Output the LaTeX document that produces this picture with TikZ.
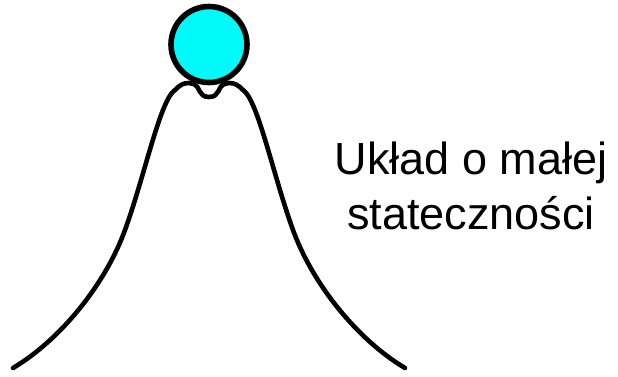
\documentclass[tikz,border=0pt]{standalone}
\usepackage{fontspec}
\setmainfont{Liberation Sans}
\definecolor{ballcyan}{RGB}{0,250,250}
\begin{document}
\begin{tikzpicture}[x=1pt,y=-1pt,
  hill/.style={line width=4.6pt,line cap=round,line join=round},
  ballstyle/.style={circle,draw,line width=5.6pt,fill=ballcyan,minimum size=76pt,inner sep=0pt},
  label/.style={align=center,font=\fontsize{45}{55}\selectfont,inner sep=0pt}]
\useasboundingbox (0,0) rectangle (618,376);
\draw[hill] (13,368) .. controls (60,340) and (105,285) .. (125,230)
  .. controls (145,175) and (160,100) .. (175,90)
  .. controls (180,85) and (183,83) .. (189,83) -- (194,84)
  .. controls (200,86) and (198,97) .. (209,97)
  .. controls (220,97) and (218,86) .. (224,84) -- (229,83)
  .. controls (235,83) and (238,85) .. (243,90)
  .. controls (258,100) and (273,175) .. (293,230)
  .. controls (313,285) and (358,340) .. (405,368);
\node[ballstyle] (ball) at (209,44.5) {};
\node[label,anchor=base] (txt) at (471,229) {Układ o małej\\stateczności};
\end{tikzpicture}
\end{document}
